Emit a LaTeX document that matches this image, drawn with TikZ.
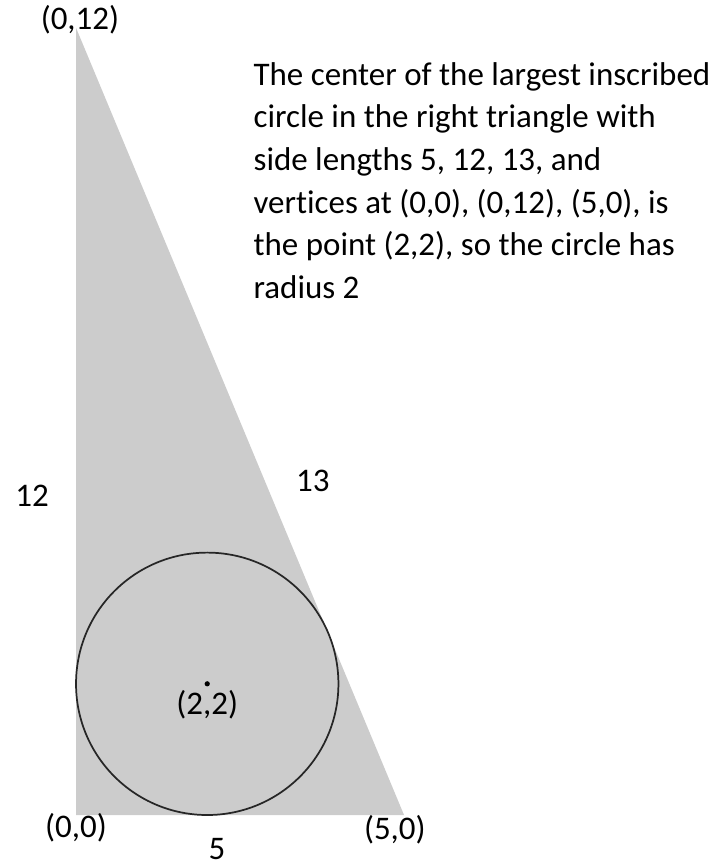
\documentclass[tikz,border=0pt]{standalone}
\usepackage{fontspec}
\setmainfont{Carlito}[Ligatures={NoCommon}]
\begin{document}
\begin{tikzpicture}[
    font=\fontsize{14.3}{18.5}\selectfont,
    tri/.style={fill=gray!40, draw=none},
    incircle/.style={draw=black!85, line width=0.75pt},
    ptlabel/.style={inner sep=1pt},
    sidelabel/.style={inner sep=0pt},
    note/.style={align=left, inner sep=0pt, anchor=north west},
  ]
  \useasboundingbox (-1.159,-0.762) rectangle (9.817,12.424);

  % vertices of the 5-12-13 triangle
  \coordinate (O) at (0,0);
  \coordinate (A) at (0,12);
  \coordinate (B) at (5,0);
  \coordinate (C) at (2,2);

  \fill[tri] (O) -- (A) -- (B) -- cycle;

  % inscribed circle, radius 2 about (2,2)
  \draw[incircle] (C) circle (2);
  \fill (C) circle (0.04);

  \node[ptlabel] (lA) at (0.06,12.12) {(0,12)};
  \node[ptlabel] (lO) at (0,-0.19) {(0,0)};
  \node[ptlabel] (lB) at (4.86,-0.22) {(5,0)};
  \node[ptlabel] (lC) at (2,1.68) {(2,2)};

  \node[sidelabel] (side5) at (2.15,-0.52) {5};
  \node[sidelabel] (side12) at (-0.67,4.86) {12};
  \node[sidelabel] (side13) at (3.61,5.09) {13};

  \node[note] (text) at (2.70,11.48)
    {The center of the largest inscribed\\
     circle in the right triangle with\\
     side lengths 5, 12, 13, and\\
     vertices at (0,0), (0,12), (5,0), is\\
     the point (2,2), so the circle has\\
     radius 2};
\end{tikzpicture}
\end{document}
